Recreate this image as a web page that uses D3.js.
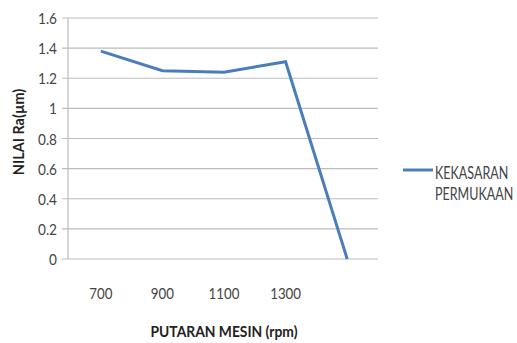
<!DOCTYPE html>
<html><head><meta charset="utf-8">
<script src="https://cdn.jsdelivr.net/npm/d3@7"></script>
<style>body{margin:0;background:#fff}text{font-family:Lato,"Open Sans",sans-serif}</style>
</head><body>
<svg id="c" width="517" height="343"></svg>
<script>
const categories = ["700","900","1100","1300",""];
const values = [1.38, 1.25, 1.24, 1.31, 0];
const yTicks = [0,0.2,0.4,0.6,0.8,1,1.2,1.4,1.6];
const seriesName = ["KEKASARAN","PERMUKAAN"];

const svg = d3.select("#c");
const x = d3.scaleBand().domain(d3.range(categories.length)).range([70,378]);
const y = d3.scaleLinear().domain([0,1.6]).range([259,18]);

function condense(sel, f){
  sel.each(function(){
    const w = this.getComputedTextLength();
    if (w > 0) d3.select(this).attr("textLength", w*f).attr("lengthAdjust","spacingAndGlyphs");
  });
}

svg.append("g").selectAll("line").data(yTicks).join("line")
  .attr("x1",62).attr("x2",378).attr("y1",d=>y(d)).attr("y2",d=>y(d))
  .attr("stroke","#bdbdbd").attr("stroke-width",1.2);
svg.append("line").attr("x1",68).attr("x2",68).attr("y1",y(1.6)).attr("y2",y(0))
  .attr("stroke","#bdbdbd").attr("stroke-width",1.2);

svg.append("g").selectAll("text").data(yTicks).join("text")
  .attr("x",57).attr("y",d=>y(d)+6).attr("text-anchor","end")
  .attr("font-size",16).attr("fill","#444").text(d=>d).call(condense,0.85);

svg.append("g").selectAll("text").data(categories).join("text")
  .attr("x",(d,i)=>x(i)+x.bandwidth()/2).attr("y",299).attr("text-anchor","middle")
  .attr("font-size",16).attr("fill","#444").text(d=>d).call(condense,0.83);

const line = d3.line().x((d,i)=>x(i)+x.bandwidth()/2).y(d=>y(d));
svg.append("path").datum(values).attr("d",line).attr("fill","none")
  .attr("stroke","#4a7ebb").attr("stroke-width",3).attr("stroke-linejoin","miter");

svg.append("text").attr("x",224).attr("y",337).attr("text-anchor","middle")
  .attr("font-size",16).attr("font-weight","bold").attr("fill","#222").text("PUTARAN MESIN (rpm)").call(condense,0.865);
svg.append("text").attr("transform","translate(24,132) rotate(-90)").attr("text-anchor","middle")
  .attr("font-size",16).attr("font-weight","bold").attr("fill","#222").text("NILAI Ra(µm)").call(condense,0.9);

svg.append("line").attr("x1",403).attr("x2",433).attr("y1",170).attr("y2",170)
  .attr("stroke","#4a7ebb").attr("stroke-width",3);
svg.append("g").selectAll("text").data(seriesName).join("text")
  .attr("transform",(d,i)=>`translate(435,${179+i*21}) scale(0.76,1)`)
  .attr("font-size",16.5).attr("fill","#444").text(d=>d);
</script>
</body></html>
